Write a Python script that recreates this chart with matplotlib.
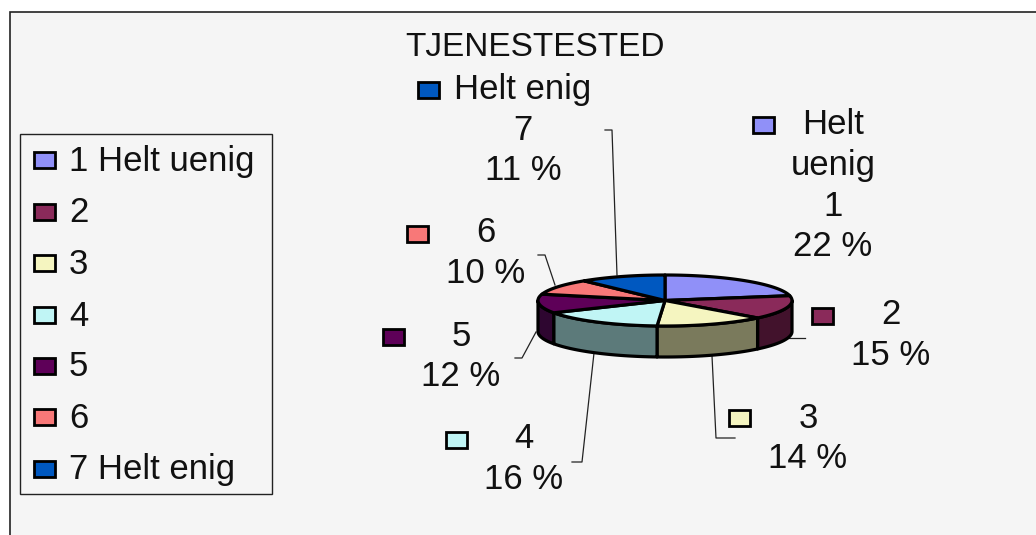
import matplotlib
matplotlib.use('Agg')
import matplotlib.pyplot as plt
from matplotlib.patches import Polygon, Rectangle
import numpy as np

TITLE = 'TJENESTESTED'
CATEGORIES = ['1 Helt uenig', '2', '3', '4', '5', '6', '7 Helt enig']
VALUES = [22, 15, 14, 16, 12, 10, 11]
COLORS = ['#9090f8', '#8a2a5a', '#f5f5c0', '#c0f5f5', '#5e0058', '#f87878', '#0058c0']
SIDE_COLORS = ['#48486f', '#42122c', '#7a7a5c', '#5c7a7a', '#2e0630', '#7c3c3c', '#002c60']

# label name lines, marker pos, text centre x, first line y
LABEL_NAMES = [['Helt', 'uenig', '1'], ['2'], ['3'], ['4'], ['5'], ['6'], ['Helt enig', '7']]
LABEL_MARKERS = [(763, 125), (822, 316), (739, 418), (456, 440), (393, 337), (417, 234), (428, 90)]
LABEL_X = [833, 891, 808, 524, 461, 486, 523]
LABEL_Y = [125, 315, 418, 439, 336, 233, 90]
LEADERS = [
    None,
    [(783, 338), (805, 338)],
    [(712, 356), (716, 438), (735, 438)],
    [(594, 353), (582, 462), (572, 462)],
    [(536, 332), (522, 358), (515, 358)],
    [(555, 285), (545, 255), (538, 255)],
    [(617, 275), (612, 130), (605, 130)],
]
LEGEND_Y = [161, 213, 264, 316, 367, 418, 470]

CX, CY, RX, RY, DEPTH = 665, 300.5, 127, 25.5, 31
BG = '#f5f5f5'
FONT = 'Liberation Sans'
FS = 25
LINE_H = 40.5


def arc(a0, a1, n=60):
    # angles in degrees, clockwise from the top of the pie
    t = np.radians(np.linspace(a0, a1, n))
    return np.column_stack([CX + RX * np.sin(t), CY - RY * np.cos(t)])


def marker(ax, x, y, color):
    ax.add_patch(Rectangle((x - 10.5, y - 8), 21, 16, fc=color, ec='black', lw=2.0, zorder=4))


fig = plt.figure(figsize=(10.36, 5.35), dpi=100, facecolor='white')
ax = fig.add_axes([0, 0, 1, 1])
ax.set_xlim(0, 1036)
ax.set_ylim(535, 0)
ax.axis('off')

# chart area
ax.add_patch(Rectangle((10, 12), 1040, 540, fc=BG, ec='#222222', lw=1.2))
ax.text(535, 48, TITLE, ha='center', va='center', fontsize=24, family=FONT, color='#111111')

# pie
edges = np.cumsum([0] + VALUES) * 3.6
for i in range(len(VALUES)):
    a0 = max(edges[i], 90)
    a1 = min(edges[i + 1], 270)
    if a1 > a0:
        top = arc(a0, a1)
        bottom = top[::-1] + [0, DEPTH]
        ax.add_patch(Polygon(np.vstack([top, bottom]), fc=SIDE_COLORS[i], ec='black', lw=2.3, joinstyle='round', zorder=2))
for i in range(len(VALUES)):
    pts = np.vstack([[CX, CY], arc(edges[i], edges[i + 1])])
    ax.add_patch(Polygon(pts, fc=COLORS[i], ec='black', lw=2.3, joinstyle='round', zorder=3))

# leader lines
for line in LEADERS:
    if line:
        ax.plot(*zip(*line), color='#222222', lw=0.9, zorder=1)

# data labels
for i, v in enumerate(VALUES):
    marker(ax, *LABEL_MARKERS[i], COLORS[i])
    lines = LABEL_NAMES[i] + [f'{v} %']
    for j, s in enumerate(lines):
        ax.text(LABEL_X[i], LABEL_Y[i] + j * LINE_H, s, ha='center', va='center',
                fontsize=FS, family=FONT, color='#111111', zorder=5)

# legend
ax.add_patch(Rectangle((20, 134), 252, 360, fc=BG, ec='#222222', lw=1.0, zorder=3))
for i, name in enumerate(CATEGORIES):
    marker(ax, 44, LEGEND_Y[i] - 1, COLORS[i])
    ax.text(69, LEGEND_Y[i], name, ha='left', va='center', fontsize=FS, family=FONT, color='#111111', zorder=5)

fig.savefig('out.png', dpi=100)
